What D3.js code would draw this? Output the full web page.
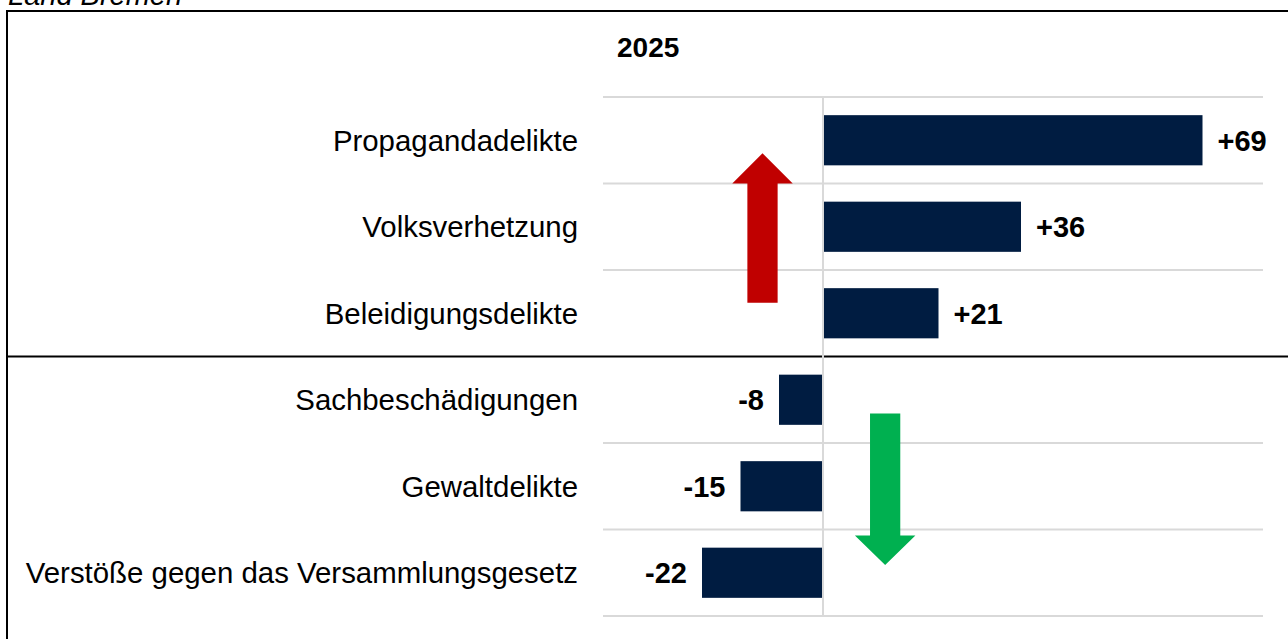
<!DOCTYPE html>
<html>
<head>
<meta charset="utf-8">
<script src="https://cdn.jsdelivr.net/npm/d3@7"></script>
<style>
  body { margin: 0; background: #fff; }
  svg { display: block; font-family: "Liberation Sans", Arial, sans-serif; }
</style>
</head>
<body>
<div id="chart"></div>
<script>
  // data
  const categories = [
    "Propagandadelikte",
    "Volksverhetzung",
    "Beleidigungsdelikte",
    "Sachbeschädigungen",
    "Gewaltdelikte",
    "Verstöße gegen das Versammlungsgesetz"
  ];
  const changes = [69, 36, 21, -8, -15, -22];
  const yearLabel = "2025";
  const subtitle = "Land Bremen";

  const W = 1288, H = 639;
  const barColor = "#001c41";
  const gridColor = "#d9d9d9";

  const svg = d3.select("#chart").append("svg")
    .attr("width", W).attr("height", H);

  const x = d3.scaleLinear().domain([-40, 80]).range([603, 1263]);
  const y = d3.scaleBand().domain(categories).range([97, 616])
    .paddingInner(0.42).paddingOuter(0.21);
  // continuous row index scale, used for gridlines and arrows
  const row = d3.scaleLinear().domain([0, categories.length]).range([97, 616]);

  // frame
  svg.append("text")
    .attr("x", 8).attr("y", 5)
    .attr("font-size", "29px").attr("font-style", "italic")
    .text(subtitle);

  const frame = svg.append("g").attr("stroke", "#000").attr("stroke-width", 2);
  frame.append("line").attr("x1", 6).attr("x2", W).attr("y1", 11).attr("y2", 11);
  frame.append("line").attr("x1", 7).attr("x2", 7).attr("y1", 10).attr("y2", H);
  frame.append("line").attr("x1", 6).attr("x2", W).attr("y1", row(3)).attr("y2", row(3));

  // gridlines between rows
  svg.append("g").selectAll("line")
    .data(d3.range(categories.length + 1).filter(i => i !== 3))
    .join("line")
    .attr("x1", x.range()[0]).attr("x2", x.range()[1])
    .attr("y1", d => row(d)).attr("y2", d => row(d))
    .attr("stroke", gridColor).attr("stroke-width", 2);

  // zero line
  svg.append("line")
    .attr("x1", x(0)).attr("x2", x(0))
    .attr("y1", row(0)).attr("y2", row(categories.length))
    .attr("stroke", gridColor).attr("stroke-width", 2);

  // year header
  svg.append("text")
    .attr("x", 617).attr("y", 57)
    .attr("font-size", "28px").attr("font-weight", "bold")
    .text(yearLabel);

  const rows = categories.map((c, i) => ({ cat: c, v: changes[i] }));

  // bars
  svg.append("g").selectAll("rect")
    .data(rows)
    .join("rect")
    .attr("x", d => x(Math.min(0, d.v)) + (d.v > 0 ? 1 : 0))
    .attr("width", d => Math.abs(x(d.v) - x(0)) - 1)
    .attr("y", d => y(d.cat))
    .attr("height", y.bandwidth())
    .attr("fill", barColor);

  // category labels
  svg.append("g").selectAll("text")
    .data(rows)
    .join("text")
    .attr("x", 578)
    .attr("y", d => y(d.cat) + y.bandwidth() / 2)
    .attr("dy", "0.36em")
    .attr("text-anchor", "end")
    .attr("font-size", "29.4px")
    .attr("fill", "#000")
    .text(d => d.cat);

  // value labels
  svg.append("g").selectAll("text")
    .data(rows)
    .join("text")
    .attr("x", d => d.v > 0 ? x(d.v) + 15 : x(d.v) - 15)
    .attr("y", d => y(d.cat) + y.bandwidth() / 2)
    .attr("dy", "0.36em")
    .attr("text-anchor", d => d.v > 0 ? "start" : "end")
    .attr("font-size", "29px")
    .attr("font-weight", "bold")
    .text(d => (d.v > 0 ? "+" : "") + d.v);

  // trend arrows (x in value units, y in row units)
  const arrows = [
    { cx: -11, tail: 2.38, headBase: 1.0, tip: 0.65, color: "#c00000" },
    { cx: 11.3, tail: 3.66, headBase: 5.07, tip: 5.41, color: "#00b050" }
  ];
  const shaftHalf = 2.75, headHalf = 5.5;

  svg.append("g").selectAll("path")
    .data(arrows)
    .join("path")
    .attr("fill", d => d.color)
    .attr("d", d => {
      const p = d3.path();
      p.moveTo(x(d.cx - shaftHalf), row(d.tail));
      p.lineTo(x(d.cx - shaftHalf), row(d.headBase));
      p.lineTo(x(d.cx - headHalf), row(d.headBase));
      p.lineTo(x(d.cx), row(d.tip));
      p.lineTo(x(d.cx + headHalf), row(d.headBase));
      p.lineTo(x(d.cx + shaftHalf), row(d.headBase));
      p.lineTo(x(d.cx + shaftHalf), row(d.tail));
      p.closePath();
      return p.toString();
    });
</script>
</body>
</html>
